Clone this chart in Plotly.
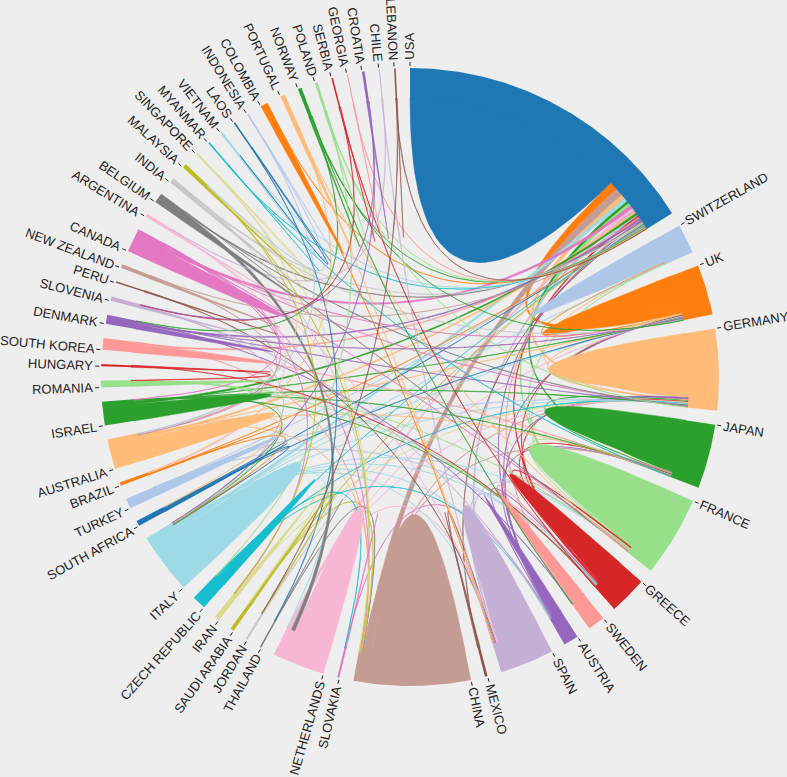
import numpy as np
import plotly.graph_objects as go

# countries in clockwise order, starting at the top
countries = ["USA", "SWITZERLAND", "UK", "GERMANY", "JAPAN", "FRANCE", "GREECE", "SWEDEN",
             "AUSTRIA", "SPAIN", "MEXICO", "CHINA", "SLOVAKIA", "NETHERLANDS", "THAILAND",
             "JORDAN", "SAUDI ARABIA", "IRAN", "CZECH REPUBLIC", "ITALY", "SOUTH AFRICA",
             "TURKEY", "BRAZIL", "AUSTRALIA", "ISRAEL", "ROMANIA", "HUNGARY", "SOUTH KOREA",
             "DENMARK", "SLOVENIA", "PERU", "NEW ZEALAND", "CANADA", "ARGENTINA", "BELGIUM",
             "INDIA", "MALAYSIA", "SINGAPORE", "MYANMAR", "VIETNAM", "LAOS", "INDONESIA",
             "COLOMBIA", "PORTUGAL", "NORWAY", "POLAND", "SERBIA", "GEORGIA", "CROATIA",
             "CHILE", "LEBANON"]

# flows of a country with itself (diagonal of the matrix)
self_vals = [457, 48, 62, 122, 104, 132, 54, 26, 16, 86, 3, 192, 2, 81, 1, 1, 3, 6, 21, 93,
             6, 16, 2, 44, 34, 9, 2, 17, 10, 4, 2, 5, 32, 3, 8, 6, 4, 1, 1, 2, 1, 1, 12, 6,
             3, 2, 1, 1, 3, 0, 1]

# flows between two countries
links = [
    ("USA", "UK", 17), ("USA", "CHINA", 15), ("USA", "GERMANY", 10), ("USA", "ITALY", 7),
    ("USA", "JAPAN", 6), ("USA", "CANADA", 6), ("USA", "FRANCE", 6), ("USA", "NETHERLANDS", 5),
    ("USA", "SPAIN", 4), ("USA", "ISRAEL", 4), ("USA", "AUSTRALIA", 4), ("USA", "SWITZERLAND", 3),
    ("USA", "DENMARK", 3), ("USA", "SOUTH KOREA", 3), ("USA", "GREECE", 3), ("USA", "INDIA", 2),
    ("USA", "BELGIUM", 2), ("USA", "SWEDEN", 2), ("USA", "AUSTRIA", 2), ("USA", "MEXICO", 1),
    ("USA", "JORDAN", 1), ("USA", "SAUDI ARABIA", 1), ("USA", "CZECH REPUBLIC", 1),
    ("USA", "SOUTH AFRICA", 1), ("USA", "TURKEY", 1), ("USA", "BRAZIL", 1),
    ("USA", "NEW ZEALAND", 1), ("USA", "MYANMAR", 1), ("USA", "VIETNAM", 1),
    ("USA", "COLOMBIA", 1), ("USA", "NORWAY", 1), ("USA", "POLAND", 1), ("USA", "GEORGIA", 1),
    ("USA", "LEBANON", 1),
    ("SWITZERLAND", "UK", 1), ("SWITZERLAND", "GERMANY", 1), ("SWITZERLAND", "FRANCE", 1),
    ("SWITZERLAND", "ITALY", 1),
    ("UK", "GERMANY", 2), ("UK", "FRANCE", 1), ("UK", "GREECE", 1), ("UK", "AUSTRIA", 1),
    ("UK", "NETHERLANDS", 1), ("UK", "ITALY", 1), ("UK", "SOUTH AFRICA", 1),
    ("UK", "AUSTRALIA", 1), ("UK", "ISRAEL", 1), ("UK", "DENMARK", 1), ("UK", "CANADA", 1),
    ("UK", "INDIA", 1), ("UK", "NORWAY", 1),
    ("GERMANY", "JAPAN", 1), ("GERMANY", "FRANCE", 1), ("GERMANY", "GREECE", 1),
    ("GERMANY", "AUSTRIA", 3), ("GERMANY", "CHINA", 1), ("GERMANY", "NETHERLANDS", 1),
    ("GERMANY", "IRAN", 1), ("GERMANY", "CZECH REPUBLIC", 1), ("GERMANY", "ITALY", 1),
    ("GERMANY", "TURKEY", 1), ("GERMANY", "ISRAEL", 1), ("GERMANY", "DENMARK", 1),
    ("GERMANY", "CANADA", 1), ("GERMANY", "BELGIUM", 1), ("GERMANY", "POLAND", 1),
    ("JAPAN", "FRANCE", 1), ("JAPAN", "GREECE", 1), ("JAPAN", "AUSTRIA", 1),
    ("JAPAN", "CHINA", 2), ("JAPAN", "AUSTRALIA", 1), ("JAPAN", "ISRAEL", 1),
    ("JAPAN", "SOUTH KOREA", 1), ("JAPAN", "MYANMAR", 1),
    ("FRANCE", "GREECE", 2), ("FRANCE", "SWEDEN", 1), ("FRANCE", "SPAIN", 1),
    ("FRANCE", "ITALY", 1), ("FRANCE", "ROMANIA", 1), ("FRANCE", "CANADA", 1),
    ("FRANCE", "BELGIUM", 1), ("FRANCE", "PORTUGAL", 1),
    ("GREECE", "SWEDEN", 1), ("GREECE", "AUSTRIA", 1), ("GREECE", "SPAIN", 1),
    ("GREECE", "ITALY", 1), ("GREECE", "TURKEY", 1), ("GREECE", "ISRAEL", 1),
    ("GREECE", "ROMANIA", 1), ("GREECE", "HUNGARY", 1), ("GREECE", "SERBIA", 1),
    ("SWEDEN", "DENMARK", 1), ("SWEDEN", "NORWAY", 1),
    ("AUSTRIA", "ITALY", 1), ("AUSTRIA", "SLOVAKIA", 1), ("AUSTRIA", "CZECH REPUBLIC", 1),
    ("AUSTRIA", "SLOVENIA", 1),
    ("SPAIN", "MEXICO", 1), ("SPAIN", "NETHERLANDS", 2), ("SPAIN", "ITALY", 1),
    ("SPAIN", "PERU", 1), ("SPAIN", "ARGENTINA", 1), ("SPAIN", "COLOMBIA", 1),
    ("SPAIN", "PORTUGAL", 1), ("SPAIN", "CHILE", 1),
    ("CHINA", "THAILAND", 1), ("CHINA", "SAUDI ARABIA", 1), ("CHINA", "AUSTRALIA", 1),
    ("CHINA", "SOUTH KOREA", 1), ("CHINA", "CANADA", 1), ("CHINA", "INDIA", 1),
    ("CHINA", "MALAYSIA", 1), ("CHINA", "SINGAPORE", 1),
    ("SLOVAKIA", "CZECH REPUBLIC", 1),
    ("NETHERLANDS", "ITALY", 1), ("NETHERLANDS", "BELGIUM", 7),
    ("THAILAND", "LAOS", 1),
    ("JORDAN", "SAUDI ARABIA", 1), ("JORDAN", "LEBANON", 1),
    ("SAUDI ARABIA", "IRAN", 1),
    ("IRAN", "CANADA", 1), ("IRAN", "MALAYSIA", 1),
    ("CZECH REPUBLIC", "POLAND", 1),
    ("ITALY", "ISRAEL", 1), ("ITALY", "BRAZIL", 1), ("ITALY", "SOUTH AFRICA", 1),
    ("ITALY", "SLOVENIA", 1), ("ITALY", "ROMANIA", 1), ("ITALY", "CROATIA", 1),
    ("SOUTH AFRICA", "AUSTRALIA", 1),
    ("BRAZIL", "ARGENTINA", 1), ("BRAZIL", "PORTUGAL", 1),
    ("AUSTRALIA", "NEW ZEALAND", 1), ("AUSTRALIA", "CANADA", 1),
    ("AUSTRALIA", "SINGAPORE", 1), ("AUSTRALIA", "INDONESIA", 1),
    ("ISRAEL", "CANADA", 1),
    ("ROMANIA", "HUNGARY", 1),
    ("DENMARK", "NORWAY", 1),
    ("SLOVENIA", "SERBIA", 1), ("SLOVENIA", "CROATIA", 1),
    ("ARGENTINA", "CHILE", 1),
    ("MALAYSIA", "SINGAPORE", 1), ("MALAYSIA", "INDONESIA", 1),
    ("VIETNAM", "LAOS", 1),
]

palette = ["#1f77b4", "#aec7e8", "#ff7f0e", "#ffbb78", "#2ca02c", "#98df8a", "#d62728",
           "#ff9896", "#9467bd", "#c5b0d5", "#8c564b", "#c49c94", "#e377c2", "#f7b6d2",
           "#7f7f7f", "#c7c7c7", "#bcbd22", "#dbdb8d", "#17becf", "#9edae5"]

# Arial advance widths (per 1000 em) for label placement
char_w = {"A": 667, "B": 667, "C": 722, "D": 722, "E": 667, "F": 611, "G": 778, "H": 722,
          "I": 278, "J": 500, "K": 667, "L": 556, "M": 833, "N": 722, "O": 778, "P": 667,
          "Q": 778, "R": 722, "S": 667, "T": 611, "U": 722, "V": 667, "W": 944, "X": 667,
          "Y": 667, "Z": 611, " ": 278}

W, H = 787, 777
CX, CY = 410, 377
R_IN, R_OUT = 279, 309
FONT = 13

n = len(countries)
idx = {c: i for i, c in enumerate(countries)}
matrix = np.zeros((n, n))
for i, v in enumerate(self_vals):
    matrix[i][i] = v
for a, b, v in links:
    matrix[idx[a]][idx[b]] = v
    matrix[idx[b]][idx[a]] = v

# chord layout (like d3.chord with subgroups sorted descending)
pad = np.radians(2.65)
k = (2 * np.pi - pad * n) / matrix.sum()
groups = []
sub = {}
x = 0.0
for i in range(n):
    x0 = x
    order = sorted(range(n), key=lambda j: -matrix[i][j])
    for j in order:
        a0 = x
        x += matrix[i][j] * k
        sub[(i, j)] = (a0, x)
    groups.append((x0, x))
    x += pad


def pt(r, a):
    return r * np.sin(a), r * np.cos(a)


def arc(r, a0, a1):
    m = max(2, int(abs(np.degrees(a1 - a0)) * 2) + 2)
    t = np.linspace(a0, a1, m)
    return list(r * np.sin(t)), list(r * np.cos(t))


def curve(p0, p2, num=40):
    # quadratic bezier with the control point at the centre
    t = np.linspace(0, 1, num)
    xs = (1 - t) ** 2 * p0[0] + t ** 2 * p2[0]
    ys = (1 - t) ** 2 * p0[1] + t ** 2 * p2[1]
    return list(xs), list(ys)


def ribbon(i, j):
    s0, s1 = sub[(i, j)]
    t0, t1 = sub[(j, i)]
    xs, ys = arc(R_IN, s0, s1)
    if i != j:
        cx_, cy_ = curve(pt(R_IN, s1), pt(R_IN, t0))
        xs += cx_; ys += cy_
        ax, ay = arc(R_IN, t0, t1)
        xs += ax; ys += ay
        cx_, cy_ = curve(pt(R_IN, t1), pt(R_IN, s0))
    else:
        cx_, cy_ = curve(pt(R_IN, s1), pt(R_IN, s0))
    xs += cx_; ys += cy_
    return xs, ys


fig = go.Figure()

# outer group arcs (reach a little inside so no seam shows against the ribbons)
for i, (a0, a1) in enumerate(groups):
    ox, oy = arc(R_OUT, a0, a1)
    ix, iy = arc(R_IN - 2, a1, a0)
    fig.add_trace(go.Scatter(x=ox + ix, y=oy + iy, mode="lines", fill="toself",
                             fillcolor=palette[i % 20], line=dict(color=palette[i % 20], width=0),
                             hoverinfo="skip"))

# ribbons, coloured by the later country
for i in range(n):
    for j in range(i, n):
        if matrix[i][j] <= 0:
            continue
        xs, ys = ribbon(i, j)
        col = palette[j % 20]
        fig.add_trace(go.Scatter(x=xs, y=ys, mode="lines", fill="toself", fillcolor=col,
                                 line=dict(color=col, width=0.5), hoverinfo="skip"))

# ticks and labels at the start of each group
tx, ty = [], []
annotations = []
for i, (a0, a1) in enumerate(groups):
    p1 = pt(R_OUT + 2, a0)
    p2 = pt(R_OUT + 6, a0)
    tx += [p1[0], p2[0], None]
    ty += [p1[1], p2[1], None]
    name = countries[i]
    w = FONT * sum(char_w.get(ch, 667) for ch in name) / 1000
    deg = np.degrees(a0)
    ang = deg - 90 if deg < 180 else deg - 270
    c = pt(R_OUT + 8 + w / 2, a0)
    annotations.append(dict(x=c[0], y=c[1], text=name, showarrow=False, textangle=ang,
                            xanchor="center", yanchor="middle",
                            font=dict(size=FONT, color="#222222")))

fig.add_trace(go.Scatter(x=tx, y=ty, mode="lines", line=dict(color="#222222", width=1),
                         hoverinfo="skip"))

fig.update_layout(
    width=W, height=H,
    margin=dict(l=0, r=0, t=0, b=0),
    paper_bgcolor="#eeeeee", plot_bgcolor="#eeeeee",
    showlegend=False,
    font=dict(family="Liberation Sans, Arial, sans-serif"),
    annotations=annotations,
    xaxis=dict(range=[-CX, W - CX], visible=False, fixedrange=True),
    yaxis=dict(range=[-(H - CY), CY], visible=False, fixedrange=True),
)

# page body has a default margin; drop it so the chart fills the window
fig.write_html("out.html", config={"displayModeBar": False},
               post_script="document.body.style.margin='0';document.body.style.overflow='hidden';")
